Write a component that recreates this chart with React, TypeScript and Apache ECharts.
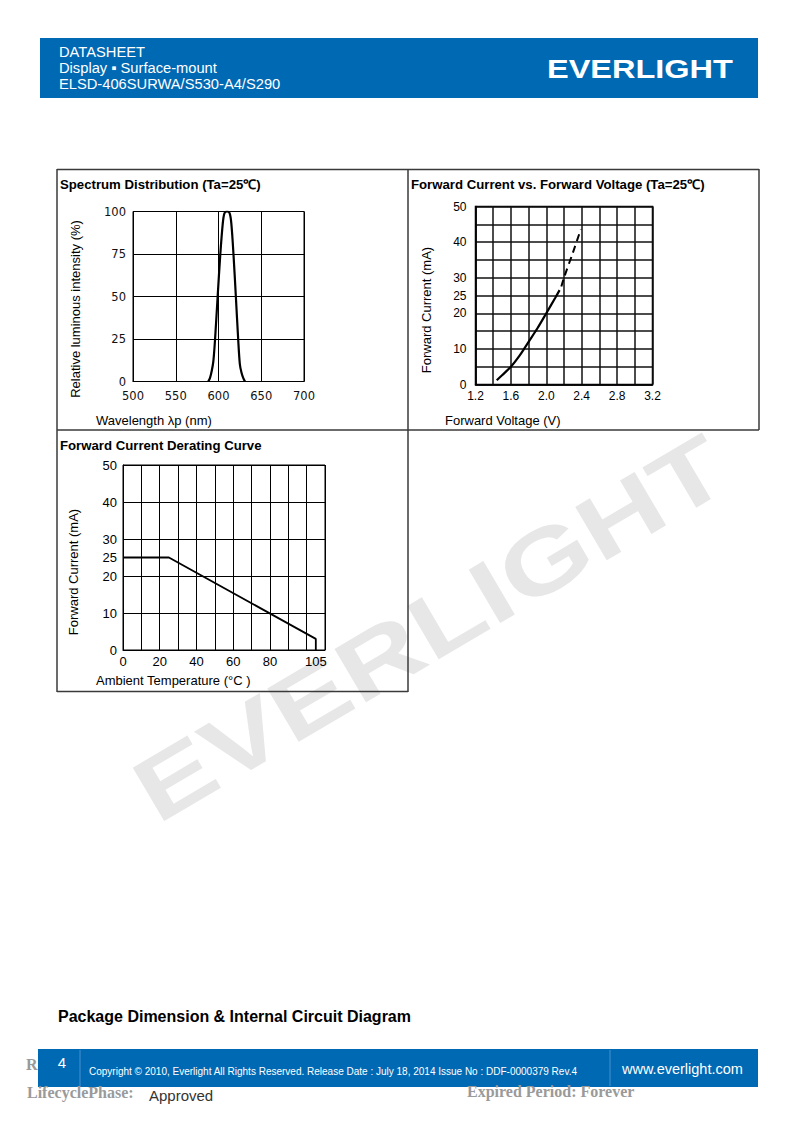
import React, { useEffect, useRef } from "react";
import * as echarts from "echarts";

// ---- Spectrum distribution ----
const spectrumWavelength = [588, 590, 592, 594, 596, 599, 602, 605, 607, 610, 613, 615, 617.5, 620.3, 623, 625, 627, 629, 631];
const spectrumIntensity = [0, 2, 6, 12, 25, 50, 74, 93, 99, 100, 99, 93, 75, 50, 25, 10, 5, 2, 0];
const spectrumXTicks = [500, 550, 600, 650, 700];
const spectrumYTicks = [0, 25, 50, 75, 100];

// ---- Forward current vs forward voltage ----
const fvVoltageSolid = [1.44, 1.5, 1.6, 1.7, 1.8, 1.9, 2.0, 2.1, 2.15];
const fvCurrentSolid = [1.2, 2.6, 5, 8.2, 12, 15.8, 20, 24.3, 26.5];
const fvVoltageDashed = [2.17, 2.2, 2.3, 2.39];
const fvCurrentDashed = [27.5, 30, 37, 43.6];
const fvXLabels = ["1.2", "1.6", "2.0", "2.4", "2.8", "3.2"];
const fvYLabels = [0, 10, 20, 25, 30, 40, 50];

// ---- Derating curve ----
const deratingTemp = [0, 25, 105, 105];
const deratingCurrent = [25, 25, 3, 0];
const deratingXLabels = [0, 20, 40, 60, 80, 105];
const deratingYLabels = [0, 10, 20, 25, 30, 40, 50];

const SANS = "'Liberation Sans', Arial, sans-serif";
const SERIF = "'Liberation Serif', 'Times New Roman', serif";
const BLUE = "#0069b4";

function pairs(xs: number[], ys: number[]) {
  return xs.map((x, i) => [x, ys[i]]);
}

function txt(text: string, x: number, y: number, opts: any = {}) {
  return {
    type: "text",
    x,
    y,
    rotation: opts.rotation || 0,
    scaleX: opts.scaleX || 1,
    z: opts.z || 10,
    style: {
      text,
      fill: opts.fill || "#000",
      font: opts.font || `13px ${SANS}`,
      align: opts.align || "left",
      verticalAlign: opts.verticalAlign || "middle",
    },
  };
}

function ln(x1: number, y1: number, x2: number, y2: number, stroke = "#3a3a3a", lineWidth = 1.5) {
  return { type: "line", z: 10, shape: { x1, y1, x2, y2 }, style: { stroke, lineWidth } };
}

export default function App() {
  const ref = useRef<HTMLDivElement>(null);

  useEffect(() => {
    if (!ref.current) return;
    const chart = echarts.init(ref.current, undefined, { renderer: "svg" });

    const axisLabelBase = { color: "#000", fontFamily: SANS, fontSize: 12 };
    const blackLine = { lineStyle: { color: "#000", width: 1 } };

    const option: any = {
      animation: false,
      backgroundColor: "#fff",
      grid: [
        { left: 133, top: 211.5, width: 171, height: 170, show: true, borderColor: "#000", borderWidth: 1, containLabel: false },
        { left: 475.5, top: 206.5, width: 177, height: 178, show: true, borderColor: "#000", borderWidth: 1.5, containLabel: false },
        { left: 123, top: 465, width: 202, height: 185, show: true, borderColor: "#000", borderWidth: 1, containLabel: false },
      ],
      xAxis: [
        {
          gridIndex: 0, type: "value", position: "bottom", min: spectrumXTicks[0], max: spectrumXTicks[spectrumXTicks.length - 1], interval: 50,
          axisLine: blackLine, axisTick: { show: false },
          axisLabel: { ...axisLabelBase, fontFamily: "'DejaVu Sans', sans-serif", fontSize: 11.5, color: "#111", margin: 8 },
          splitLine: blackLine,
        },
        {
          gridIndex: 1, type: "value", position: "bottom", min: 1.2, max: 3.2, interval: 0.2,
          axisLine: { lineStyle: { color: "#000", width: 1.5 } }, axisTick: { show: false },
          axisLabel: {
            ...axisLabelBase, margin: 5,
            formatter: (v: number) => {
              const s = v.toFixed(1);
              return fvXLabels.indexOf(s) >= 0 ? s : "";
            },
          },
          splitLine: { lineStyle: { color: "#111", width: 1.5 } },
        },
        {
          gridIndex: 2, type: "value", position: "bottom", min: 0, max: 110, interval: 10,
          axisLine: blackLine, axisTick: { show: false }, axisLabel: { show: false },
          splitLine: blackLine,
        },
        {
          gridIndex: 2, type: "value", position: "bottom", min: 0, max: 110, interval: 5,
          axisLine: { show: false }, axisTick: { show: false }, splitLine: { show: false },
          axisLabel: {
            ...axisLabelBase, fontSize: 13, margin: 5, showMinLabel: true, showMaxLabel: false,
            formatter: (v: number) => (deratingXLabels.indexOf(Math.round(v)) >= 0 ? String(Math.round(v)) : ""),
          },
        },
      ],
      yAxis: [
        {
          gridIndex: 0, type: "value", position: "left", min: spectrumYTicks[0], max: spectrumYTicks[spectrumYTicks.length - 1], interval: 25,
          axisLine: blackLine, axisTick: { show: false },
          axisLabel: { ...axisLabelBase, fontFamily: "'DejaVu Sans', sans-serif", fontSize: 11.5, color: "#111", margin: 7 },
          splitLine: blackLine,
        },
        {
          gridIndex: 1, type: "value", position: "left", min: 0, max: 50, interval: 5,
          axisLine: { lineStyle: { color: "#000", width: 1.5 } }, axisTick: { show: false },
          axisLabel: {
            ...axisLabelBase, margin: 9,
            formatter: (v: number) => (fvYLabels.indexOf(Math.round(v)) >= 0 ? String(Math.round(v)) : ""),
          },
          splitLine: { lineStyle: { color: "#111", width: 1.5 } },
        },
        {
          gridIndex: 2, type: "value", position: "left", min: 0, max: 50, interval: 10,
          axisLine: blackLine, axisTick: { show: false }, axisLabel: { show: false },
          splitLine: blackLine,
        },
        {
          gridIndex: 2, type: "value", position: "left", min: 0, max: 50, interval: 5,
          axisLine: { show: false }, axisTick: { show: false }, splitLine: { show: false },
          axisLabel: {
            ...axisLabelBase, fontSize: 13, margin: 6,
            formatter: (v: number) => (deratingYLabels.indexOf(Math.round(v)) >= 0 ? String(Math.round(v)) : ""),
          },
        },
      ],
      series: [
        {
          type: "line", xAxisIndex: 0, yAxisIndex: 0, smooth: 0.3, symbol: "none",
          data: pairs(spectrumWavelength, spectrumIntensity),
          lineStyle: { color: "#000", width: 2.2 }, z: 5,
        },
        {
          type: "line", xAxisIndex: 1, yAxisIndex: 1, smooth: 0.3, symbol: "none",
          data: pairs(fvVoltageSolid, fvCurrentSolid),
          lineStyle: { color: "#000", width: 2.2 }, z: 5,
        },
        {
          type: "line", xAxisIndex: 1, yAxisIndex: 1, smooth: 0.3, symbol: "none",
          data: pairs(fvVoltageDashed, fvCurrentDashed),
          lineStyle: { color: "#000", width: 2, type: [7, 5] }, z: 5,
        },
        {
          type: "line", xAxisIndex: 2, yAxisIndex: 2, symbol: "none",
          data: pairs(deratingTemp, deratingCurrent),
          lineStyle: { color: "#000", width: 1.8 }, z: 5,
        },
      ],
      graphic: [
        // watermark
        {
          type: "text", x: 430, y: 628, rotation: (30.5 * Math.PI) / 180, scaleX: 1.3, z: 0, zlevel: 0,
          style: {
            text: "EVERLIGHT", fill: "#e7e7e7", font: `900 90px ${SANS}`,
            align: "center", verticalAlign: "middle",
          },
        },
        // header
        { type: "rect", z: 1, shape: { x: 40, y: 38, width: 718, height: 60 }, style: { fill: BLUE } },
        txt("DATASHEET", 59, 52, { fill: "#fff", font: `14.7px ${SANS}` }),
        txt("Display \u25AA Surface-mount", 59, 68, { fill: "#fff", font: `14.7px ${SANS}` }),
        txt("ELSD-406SURWA/S530-A4/S290", 59, 84, { fill: "#fff", font: `14.7px ${SANS}` }),
        txt("EVERLIGHT", 547, 69, { fill: "#fff", font: `900 26px ${SANS}`, scaleX: 1.25 }),
        // frame
        ln(57, 169.5, 759, 169.5),
        ln(759, 169, 759, 430),
        ln(57, 430, 759, 430),
        ln(57, 169, 57, 692),
        ln(408, 169, 408, 692),
        ln(57, 691.5, 408, 691.5),
        // panel titles
        txt("Spectrum Distribution (Ta=25\u2103)", 60, 184, { font: `bold 13.2px ${SANS}` }),
        txt("Forward Current vs. Forward Voltage (Ta=25\u2103)", 411, 184, { font: `bold 13.2px ${SANS}` }),
        txt("Forward Current Derating Curve", 60, 445, { font: `bold 13.2px ${SANS}` }),
        // axis titles
        txt("Relative luminous intensity (%)", 75, 309, { rotation: Math.PI / 2, align: "center", font: `13px ${SANS}` }),
        txt("Wavelength \u03BBp (nm)", 96, 420, { font: `13px ${SANS}` }),
        txt("Forward Current (mA)", 426, 310, { rotation: Math.PI / 2, align: "center", font: `13px ${SANS}` }),
        txt("Forward Voltage (V)", 445, 420, { font: `13px ${SANS}` }),
        txt("Forward Current (mA)", 73, 572, { rotation: Math.PI / 2, align: "center", font: `13px ${SANS}` }),
        txt("Ambient Temperature (\u00B0C )", 96, 680, { font: `13px ${SANS}` }),
        // package heading
        txt("Package Dimension & Internal Circuit Diagram", 58, 1016, { font: `bold 16px ${SANS}` }),
        // footer
        txt("R", 26, 1064, { fill: "#9a9a9a", font: `bold 16px ${SERIF}` }),
        { type: "rect", z: 2, shape: { x: 38, y: 1049, width: 720, height: 38 }, style: { fill: BLUE } },
        ln(80, 1050, 80, 1086, "#4d8fcc", 1),
        ln(610, 1050, 610, 1086, "#4d8fcc", 1),
        txt("4", 62, 1062, { fill: "#fff", font: `15px ${SANS}`, align: "center", z: 12 }),
        txt("Copyright \u00A9 2010, Everlight All Rights Reserved. Release Date : July 18, 2014 Issue No : DDF-0000379 Rev.4", 89, 1071, { fill: "#fff", font: `10px ${SANS}`, z: 12 }),
        txt("www.everlight.com", 622, 1069, { fill: "#fff", font: `14.5px ${SANS}`, z: 12 }),
        txt("LifecyclePhase:", 27, 1092, { fill: "#9a9a9a", font: `bold 16px ${SERIF}` }),
        txt("Approved", 149, 1095, { fill: "#333", font: `15px ${SANS}` }),
        txt("Expired Period: Forever", 467, 1091, { fill: "#9a9a9a", font: `bold 16px ${SERIF}` }),
      ],
    };

    chart.setOption(option);
    return () => chart.dispose();
  }, []);

  return (
    <div
      ref={ref}
      style={{ position: "absolute", left: 0, top: 0, width: 794, height: 1123, background: "#fff" }}
    />
  );
}
